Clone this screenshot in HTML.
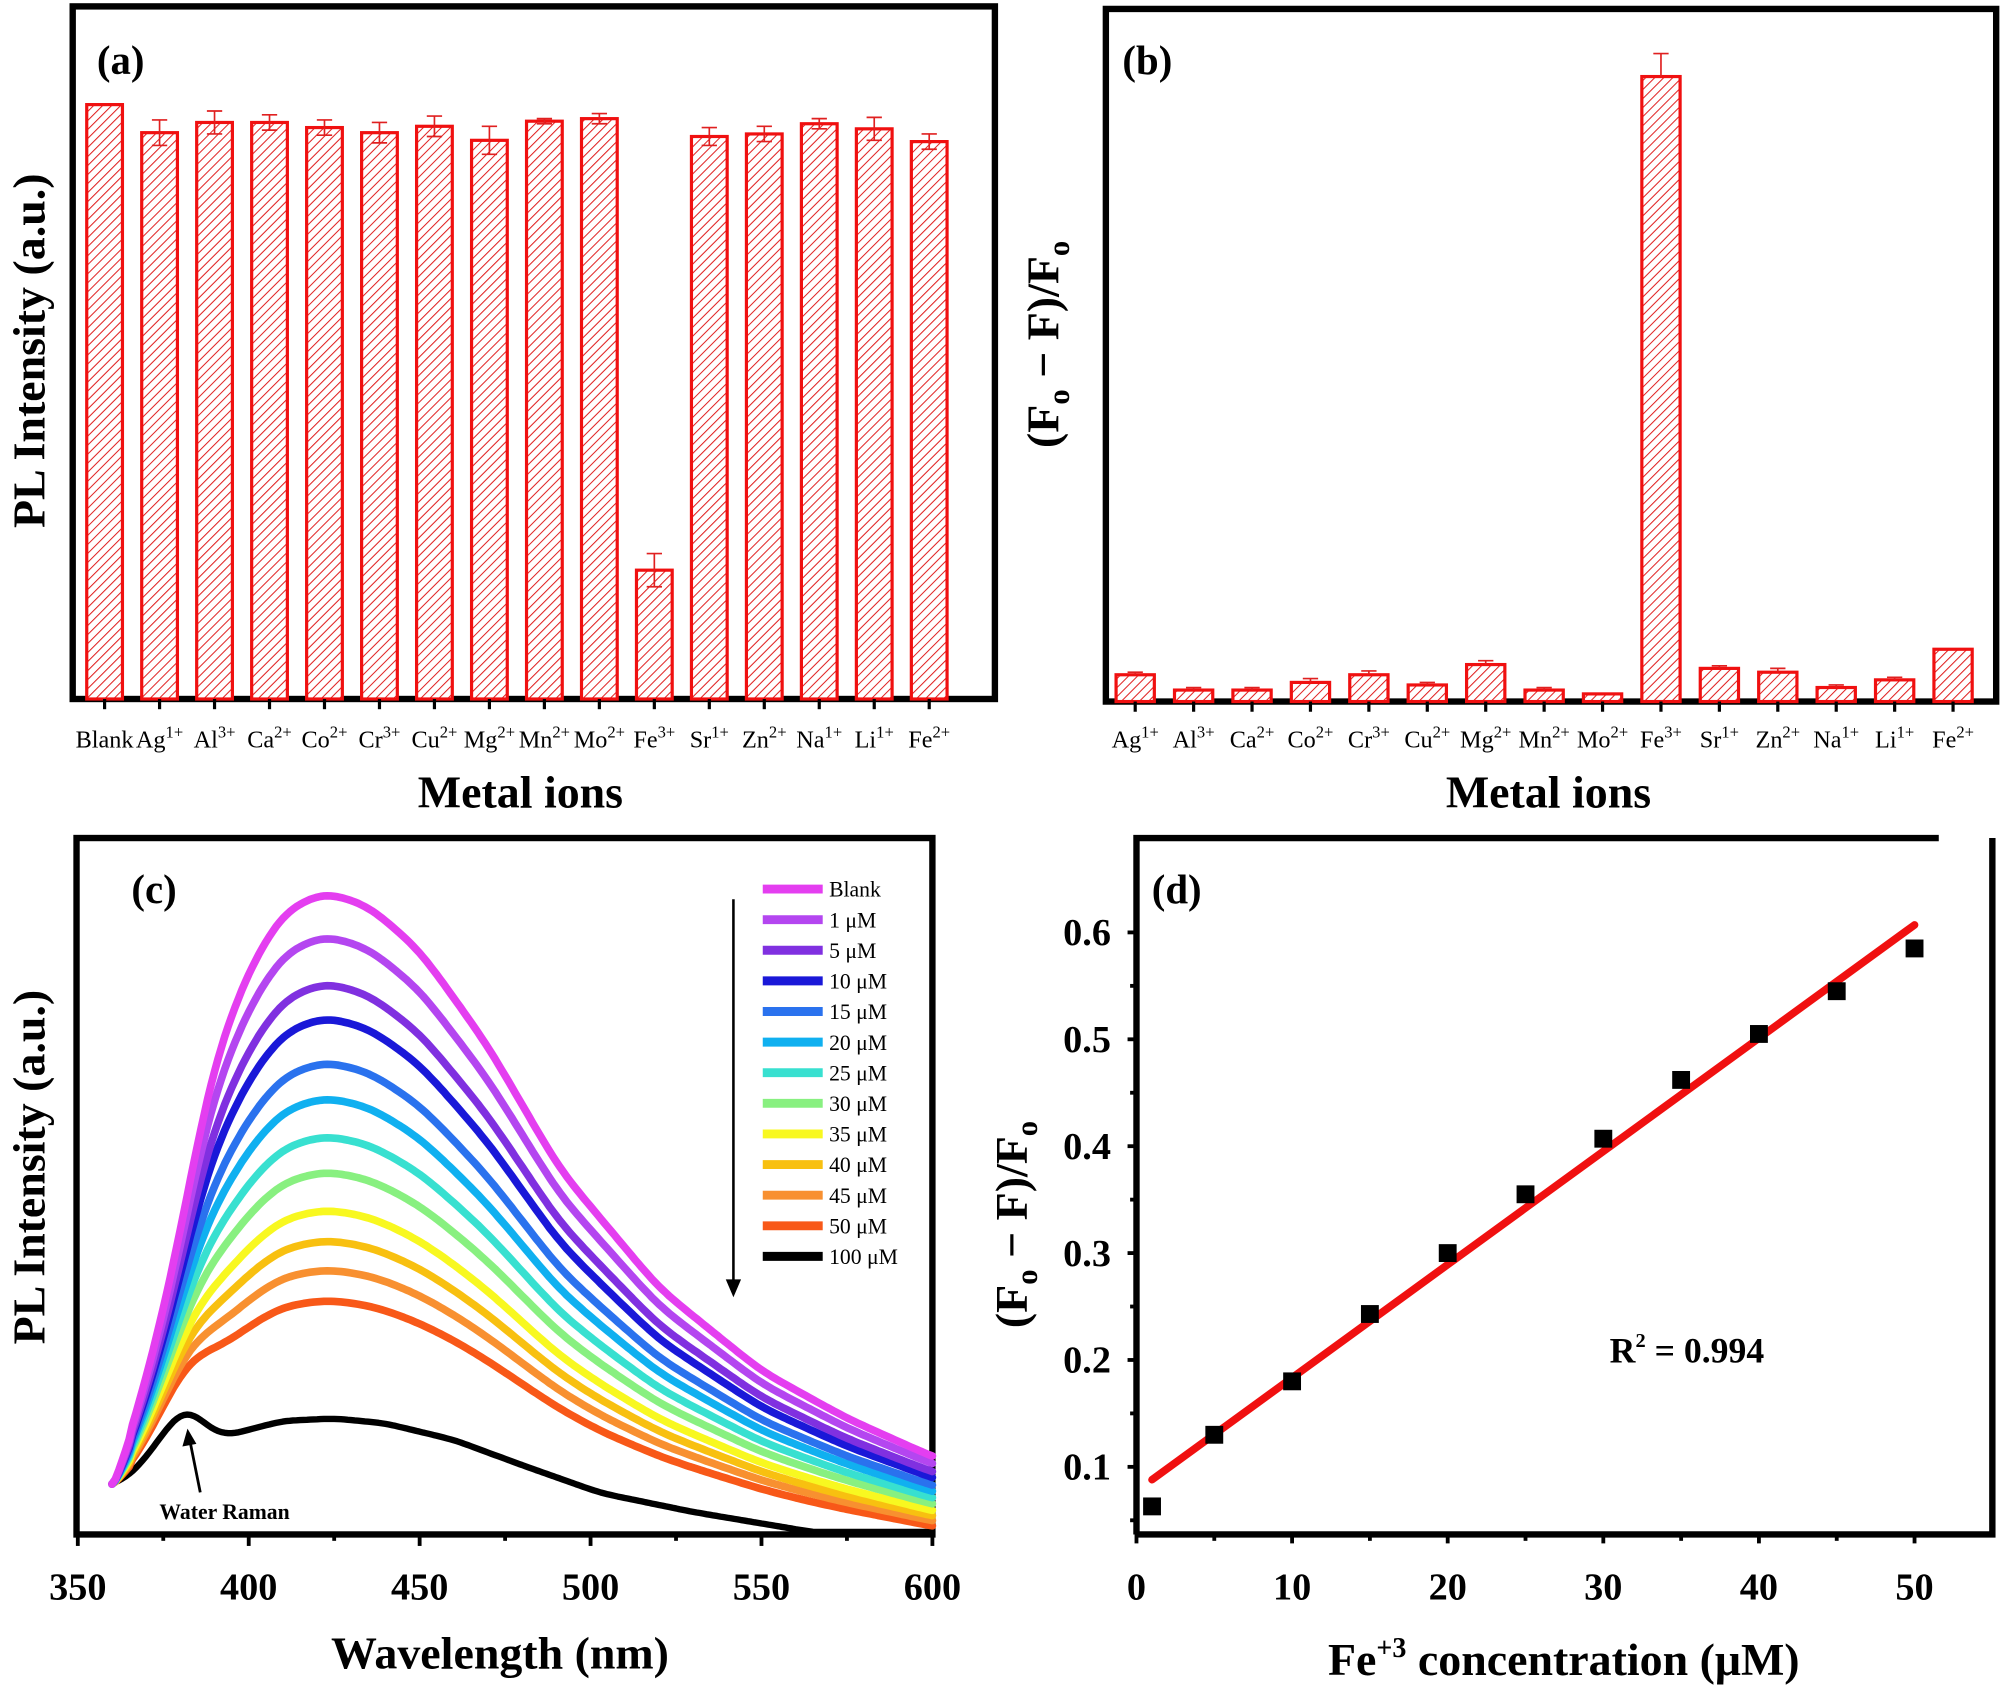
<!DOCTYPE html>
<html><head><meta charset="utf-8"><style>
html,body{margin:0;padding:0;background:#fff;}
svg{display:block;font-family:"Liberation Serif",serif;}
</style></head><body>
<svg id="s" width="2000" height="1692" viewBox="0 0 1568 1326.5" xmlns="http://www.w3.org/2000/svg">
<defs>
<pattern id="h" patternUnits="userSpaceOnUse" width="5" height="5" patternTransform="rotate(45)">
<rect width="5" height="5" fill="#fff"/><line x1="0" y1="0" x2="0" y2="5" stroke="#e02020" stroke-width="1.6"/>
</pattern>
</defs>
<g id="a"></g>
</svg>
<script>
const NS="http://www.w3.org/2000/svg",G=document.getElementById('a');
function el(t,at,txt){const e=document.createElementNS(NS,t);for(const k in at)e.setAttribute(k,at[k]);if(txt!==undefined)e.innerHTML=txt;G.appendChild(e);return e;}
function txt(x,y,s,size,anchor,extra){return el('text',Object.assign({x:x,y:y,'font-size':size,'font-weight':'bold','text-anchor':anchor||'middle'},extra||{}),s);}
const sup=s=>`<tspan dy="-8" font-size="13">${s}</tspan>`;
// Panel a
el('rect',{x:57,y:5,width:723,height:543,fill:'none',stroke:'#000','stroke-width':5});
const la=['Blank','Ag'+sup('1+'),'Al'+sup('3+'),'Ca'+sup('2+'),'Co'+sup('2+'),'Cr'+sup('3+'),'Cu'+sup('2+'),'Mg'+sup('2+'),'Mn'+sup('2+'),'Mo'+sup('2+'),'Fe'+sup('3+'),'Sr'+sup('1+'),'Zn'+sup('2+'),'Na'+sup('1+'),'Li'+sup('1+'),'Fe'+sup('2+')];
const ta=[82,104,96,96,100,104,99,110,95,93,447,107,105,97,101,111];
const ea=[0,10,9,6,6,8,8,11,2,4,13,7,6,4,9,6];
ta.forEach((t,i)=>{const c=82+i*43.1;
 el('rect',{x:c-14,y:t,width:28,height:548-t,fill:'url(#h)',stroke:'#f01010','stroke-width':2.5});
 if(ea[i]){el('path',{d:`M${c} ${t-ea[i]}V${t+ea[i]}M${c-6} ${t-ea[i]}H${c+6}M${c-6} ${t+ea[i]}H${c+6}`,stroke:'#e02020','stroke-width':1.3,fill:'none'});}
 el('line',{x1:c,y1:548,x2:c,y2:556,stroke:'#000','stroke-width':2.5});
 txt(c,586,la[i],19,'middle',{'font-weight':'normal'});
});
txt(76,58,'(a)',32,'start');
txt(408,633,'Metal ions',36);
txt(0,0,'PL Intensity (a.u.)',36,'middle',{transform:'translate(35,275) rotate(-90)'});
// Panel b
el('rect',{x:867,y:7,width:698,height:543,fill:'none',stroke:'#000','stroke-width':5});
const tb=[529,541,541,535,529,537,521,541,544,60,524,527,539,533,509];
const eb=[2,2,2,3,3,2,3,2,0,18,2,3,2,2,0];
tb.forEach((t,i)=>{const c=890+i*45.8;
 el('rect',{x:c-15,y:t,width:30,height:550-t,fill:'url(#h)',stroke:'#f01010','stroke-width':2.5});
 if(eb[i]){el('path',{d:`M${c} ${t-eb[i]}V${t}M${c-6} ${t-eb[i]}H${c+6}`,stroke:'#e02020','stroke-width':1.3,fill:'none'});}
 el('line',{x1:c,y1:550,x2:c,y2:558,stroke:'#000','stroke-width':2.5});
 txt(c,586,la[i+1],19,'middle',{'font-weight':'normal'});
});
txt(880,58,'(b)',32,'start');
txt(1214,633,'Metal ions',36);
txt(0,0,'(F<tspan dy="8" font-size="24">o</tspan><tspan dy="-8"> − F)/F</tspan><tspan dy="8" font-size="24">o</tspan>',36,'middle',{transform:'translate(830,270) rotate(-90)'});
// Panel c
el('rect',{x:60,y:657,width:671,height:546,fill:'none',stroke:'#000','stroke-width':5});
const X=l=>61+(l-350)*2.68;
[350,400,450,500,550,600].forEach(v=>{el('line',{x1:X(v),y1:1203,x2:X(v),y2:1212,stroke:'#000','stroke-width':3});txt(X(v),1254,v,30);});
[375,425,475,525,575].forEach(v=>el('line',{x1:X(v),y1:1203,x2:X(v),y2:1208,stroke:'#000','stroke-width':3}));
const cols=['#e43ef0','#b446f0','#8030e0','#1a18d8','#2a72ee','#10b0f0','#38e0d0','#88f080','#f8f820','#f8c010','#f89030','#f85818','#000'];
const peaks=[699,733,770,797,832,860,890,918,948,972,995,1019,1112];
const labs=['Blank','1 μM','5 μM','10 μM','15 μM','20 μM','25 μM','30 μM','35 μM','40 μM','45 μM','50 μM','100 μM'];
const BK=[[350,30],[360,36],[366,45],[372,65],[378,88],[382,95],[386,88],[390,78],[395,76],[400,80],[410,87],[425,89],[440,85],[460,72],[480,52],[503,30],[530,15],[563,0],[600,-12],[620,-18]];
const BL=[[350,0],[360,32],[365,70],[370,120],[374.6,165],[380.8,244],[386,320],[390.6,374],[400,440],[410,485],[422,501],[435,490],[450,455],[470,380],[491,283],[520,190],[550,125],[575,88],[600,58],[620,40]];
function interp(T,l){for(let i=0;i<T.length-1;i++){if(l<=T[i+1][0]){const f=(l-T[i][0])/(T[i+1][0]-T[i][0]);return T[i][1]+f*(T[i+1][1]-T[i][1]);}}return T[T.length-1][1];}
function smooth(f,l,sg){let s=0,w=0;for(let d=-3*sg;d<=3*sg;d+=0.5){const ww=Math.exp(-d*d/(2*sg*sg));s+=ww*f(l+d);w+=ww;}return s/w;}
for(let k=12;k>=0;k--){
 const s=(1200-peaks[k]-89)/412;let d='';
 for(let l=360;l<=600;l+=1){
  const sg=l<366?1.5:4;
  const b=smooth(q=>interp(BK,q),l,k==12?2.5:sg);
  const n=Math.max(0,smooth(q=>interp(BL,q),l,sg)-smooth(q=>interp(BK,q),l,sg));
  let y=1200-(b+s*n);
  if(y>1201)y=1201;
  d+=(l==360?'M':'L')+X(l).toFixed(1)+' '+y.toFixed(1);
 }
 el('path',{d:d,fill:'none',stroke:cols[k],'stroke-width':k==12?5:6,'stroke-linejoin':'round','stroke-linecap':'round'});
}
labs.forEach((s,i)=>{const y=697+24*i;el('line',{x1:598,y1:y,x2:645,y2:y,stroke:cols[i],'stroke-width':7});txt(650,y+6,s,17,'start',{'font-weight':'normal'});});
el('line',{x1:575,y1:705,x2:575,y2:1005,stroke:'#000','stroke-width':2});
el('path',{d:'M569 1003L575 1017L581 1003Z',fill:'#000'});
el('line',{x1:157,y1:1170,x2:149,y2:1130,stroke:'#000','stroke-width':2.2});
el('path',{d:'M143 1134L147 1120L154 1132Z',fill:'#000'});
txt(125,1191,'Water Raman',17,'start');
txt(103,708,'(c)',32,'start');
txt(392,1308,'Wavelength (nm)',36);
txt(0,0,'PL Intensity (a.u.)',36,'middle',{transform:'translate(35,915) rotate(-90)'});
// Panel d
el('path',{d:'M891 1203V657H1520M891 1203H1562V657',fill:'none',stroke:'#000','stroke-width':5});
const DX=v=>891+v*12.2,DY=v=>731+(0.6-v)*838;
[0,10,20,30,40,50].forEach(v=>{el('line',{x1:DX(v),y1:1203,x2:DX(v),y2:1210,stroke:'#000','stroke-width':3});txt(DX(v),1254,v,30);});
[5,15,25,35,45].forEach(v=>el('line',{x1:DX(v),y1:1203,x2:DX(v),y2:1208,stroke:'#000','stroke-width':3}));
[0.1,0.2,0.3,0.4,0.5,0.6].forEach(v=>{el('line',{x1:884,y1:DY(v),x2:891,y2:DY(v),stroke:'#000','stroke-width':3});txt(871,DY(v)+10,v.toFixed(1),30,'end');});
[0.05,0.15,0.25,0.35,0.45,0.55].forEach(v=>el('line',{x1:886,y1:DY(v),x2:891,y2:DY(v),stroke:'#000','stroke-width':3}));
el('line',{x1:DX(1),y1:DY(0.088),x2:DX(50),y2:DY(0.607),stroke:'#f01010','stroke-width':6,'stroke-linecap':'round'});
[[1,.063],[5,.13],[10,.18],[15,.243],[20,.3],[25,.355],[30,.407],[35,.462],[40,.505],[45,.545],[50,.585]].forEach(p=>el('rect',{x:DX(p[0])-7,y:DY(p[1])-7,width:14,height:14,fill:'#000'}));
txt(903,708,'(d)',32,'start');
txt(1262,1068,'R<tspan dy="-12" font-size="16">2</tspan><tspan dy="12"> = 0.994</tspan>',28,'start');
txt(1226,1313,'Fe<tspan dy="-14" font-size="22">+3</tspan><tspan dy="14"> concentration (μM)</tspan>',36);
txt(0,0,'(F<tspan dy="8" font-size="24">o</tspan><tspan dy="-8"> − F)/F</tspan><tspan dy="8" font-size="24">o</tspan>',36,'middle',{transform:'translate(805,960) rotate(-90)'});
</script>
</body></html>
